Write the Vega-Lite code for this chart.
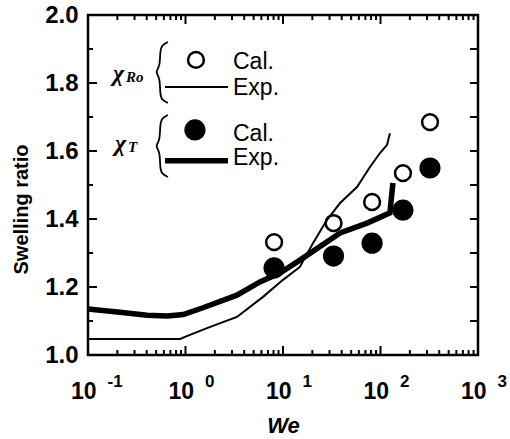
{
  "$schema": "https://vega.github.io/schema/vega-lite/v6.json",
  "width": 390,
  "height": 340,
  "autosize": {"type": "none"},
  "padding": {"left": 88, "top": 15, "right": 32, "bottom": 84},
  "background": "white",
  "config": {
    "view": {"stroke": null},
    "font": "Liberation Sans",
    "axis": {"grid": false, "labelColor": "black", "titleColor": "black", "labelFont": "Liberation Sans", "titleFont": "Liberation Sans"}
  },
  "datasets": {
    "exp": [
      {"We": 0.1, "ratio": 1.047, "model": "Ro", "k": 1},
      {"We": 0.88, "ratio": 1.047, "model": "Ro", "k": 2},
      {"We": 1.11, "ratio": 1.059, "model": "Ro", "k": 3},
      {"We": 1.66, "ratio": 1.079, "model": "Ro", "k": 4},
      {"We": 3.37, "ratio": 1.112, "model": "Ro", "k": 5},
      {"We": 6.24, "ratio": 1.171, "model": "Ro", "k": 6},
      {"We": 10, "ratio": 1.221, "model": "Ro", "k": 7},
      {"We": 14.9, "ratio": 1.259, "model": "Ro", "k": 8},
      {"We": 20.3, "ratio": 1.329, "model": "Ro", "k": 9},
      {"We": 28.2, "ratio": 1.397, "model": "Ro", "k": 10},
      {"We": 38.5, "ratio": 1.447, "model": "Ro", "k": 11},
      {"We": 57.4, "ratio": 1.494, "model": "Ro", "k": 12},
      {"We": 78, "ratio": 1.553, "model": "Ro", "k": 13},
      {"We": 98.8, "ratio": 1.594, "model": "Ro", "k": 14},
      {"We": 116.7, "ratio": 1.618, "model": "Ro", "k": 15},
      {"We": 125, "ratio": 1.652, "model": "Ro", "k": 16},
      {"We": 0.1, "ratio": 1.135, "model": "T", "k": 1},
      {"We": 0.213, "ratio": 1.126, "model": "T", "k": 2},
      {"We": 0.403, "ratio": 1.117, "model": "T", "k": 3},
      {"We": 0.65, "ratio": 1.115, "model": "T", "k": 4},
      {"We": 0.95, "ratio": 1.119, "model": "T", "k": 5},
      {"We": 1.51, "ratio": 1.139, "model": "T", "k": 6},
      {"We": 3.37, "ratio": 1.176, "model": "T", "k": 7},
      {"We": 5.8, "ratio": 1.215, "model": "T", "k": 8},
      {"We": 9.3, "ratio": 1.241, "model": "T", "k": 9},
      {"We": 14.9, "ratio": 1.279, "model": "T", "k": 10},
      {"We": 38.5, "ratio": 1.359, "model": "T", "k": 11},
      {"We": 72.8, "ratio": 1.388, "model": "T", "k": 12},
      {"We": 125, "ratio": 1.418, "model": "T", "k": 13},
      {"We": 134, "ratio": 1.506, "model": "T", "k": 14}
    ],
    "cal": [
      {"We": 8.1, "ratio": 1.332, "model": "Ro"},
      {"We": 33, "ratio": 1.388, "model": "Ro"},
      {"We": 82, "ratio": 1.45, "model": "Ro"},
      {"We": 170, "ratio": 1.535, "model": "Ro"},
      {"We": 322, "ratio": 1.685, "model": "Ro"},
      {"We": 8.1, "ratio": 1.256, "model": "T"},
      {"We": 33, "ratio": 1.291, "model": "T"},
      {"We": 82, "ratio": 1.329, "model": "T"},
      {"We": 170, "ratio": 1.426, "model": "T"},
      {"We": 322, "ratio": 1.55, "model": "T"}
    ],
    "frm": [
      {"We": 0.1, "ratio": 1, "k": 1},
      {"We": 1000, "ratio": 1, "k": 2},
      {"We": 1000, "ratio": 2, "k": 3},
      {"We": 0.1, "ratio": 2, "k": 4},
      {"We": 0.1, "ratio": 1, "k": 5}
    ],
    "tx1": [
      {"v": 0.1, "lo": 1, "hi": 2}, {"v": 1, "lo": 1, "hi": 2}, {"v": 10, "lo": 1, "hi": 2}, {"v": 100, "lo": 1, "hi": 2}, {"v": 1000, "lo": 1, "hi": 2}
    ],
    "tx2": [
      {"v": 0.2, "lo": 1, "hi": 2}, {"v": 0.3, "lo": 1, "hi": 2}, {"v": 0.4, "lo": 1, "hi": 2}, {"v": 0.5, "lo": 1, "hi": 2},
      {"v": 0.6, "lo": 1, "hi": 2}, {"v": 0.7, "lo": 1, "hi": 2}, {"v": 0.8, "lo": 1, "hi": 2}, {"v": 0.9, "lo": 1, "hi": 2},
      {"v": 2, "lo": 1, "hi": 2}, {"v": 3, "lo": 1, "hi": 2}, {"v": 4, "lo": 1, "hi": 2}, {"v": 5, "lo": 1, "hi": 2},
      {"v": 6, "lo": 1, "hi": 2}, {"v": 7, "lo": 1, "hi": 2}, {"v": 8, "lo": 1, "hi": 2}, {"v": 9, "lo": 1, "hi": 2},
      {"v": 20, "lo": 1, "hi": 2}, {"v": 30, "lo": 1, "hi": 2}, {"v": 40, "lo": 1, "hi": 2}, {"v": 50, "lo": 1, "hi": 2},
      {"v": 60, "lo": 1, "hi": 2}, {"v": 70, "lo": 1, "hi": 2}, {"v": 80, "lo": 1, "hi": 2}, {"v": 90, "lo": 1, "hi": 2},
      {"v": 200, "lo": 1, "hi": 2}, {"v": 300, "lo": 1, "hi": 2}, {"v": 400, "lo": 1, "hi": 2}, {"v": 500, "lo": 1, "hi": 2},
      {"v": 600, "lo": 1, "hi": 2}, {"v": 700, "lo": 1, "hi": 2}, {"v": 800, "lo": 1, "hi": 2}, {"v": 900, "lo": 1, "hi": 2}
    ],
    "ty1": [
      {"v": 1.2, "lo": 0.1, "hi": 1000}, {"v": 1.4, "lo": 0.1, "hi": 1000}, {"v": 1.6, "lo": 0.1, "hi": 1000}, {"v": 1.8, "lo": 0.1, "hi": 1000}
    ],
    "ty2": [
      {"v": 1.1, "lo": 0.1, "hi": 1000}, {"v": 1.3, "lo": 0.1, "hi": 1000}, {"v": 1.5, "lo": 0.1, "hi": 1000}, {"v": 1.7, "lo": 0.1, "hi": 1000}, {"v": 1.9, "lo": 0.1, "hi": 1000}
    ],
    "legMark": [
      {"We": 1.28, "ratio": 1.868, "model": "Ro"},
      {"We": 1.25, "ratio": 1.662, "model": "T"}
    ],
    "legLine": [
      {"We": 0.616, "ratio": 1.788, "model": "Ro"},
      {"We": 2.73, "ratio": 1.788, "model": "Ro"},
      {"We": 0.616, "ratio": 1.571, "model": "T"},
      {"We": 2.73, "ratio": 1.571, "model": "T"}
    ],
    "legText": [
      {"We": 3.07, "ratio": 1.841, "label": "Cal."},
      {"We": 3.07, "ratio": 1.765, "label": "Exp."},
      {"We": 3.07, "ratio": 1.629, "label": "Cal."},
      {"We": 3.07, "ratio": 1.559, "label": "Exp."}
    ],
    "chi": [
      {"We": 0.18, "ratio": 1.806, "label": "χ", "sub": "Ro"},
      {"We": 0.189, "ratio": 1.6, "label": "χ", "sub": "T"}
    ],
    "brace": [
      {"We": 0.661, "ratio": 1.9206, "b": 1, "k": 1},
      {"We": 0.574, "ratio": 1.9118, "b": 1, "k": 2},
      {"We": 0.548, "ratio": 1.8941, "b": 1, "k": 3},
      {"We": 0.548, "ratio": 1.8471, "b": 1, "k": 4},
      {"We": 0.486, "ratio": 1.8324, "b": 1, "k": 5},
      {"We": 0.548, "ratio": 1.8176, "b": 1, "k": 6},
      {"We": 0.548, "ratio": 1.7647, "b": 1, "k": 7},
      {"We": 0.574, "ratio": 1.75, "b": 1, "k": 8},
      {"We": 0.661, "ratio": 1.7412, "b": 1, "k": 9},
      {"We": 0.661, "ratio": 1.7059, "b": 2, "k": 1},
      {"We": 0.574, "ratio": 1.6971, "b": 2, "k": 2},
      {"We": 0.548, "ratio": 1.6794, "b": 2, "k": 3},
      {"We": 0.548, "ratio": 1.6294, "b": 2, "k": 4},
      {"We": 0.486, "ratio": 1.6147, "b": 2, "k": 5},
      {"We": 0.548, "ratio": 1.6, "b": 2, "k": 6},
      {"We": 0.548, "ratio": 1.5471, "b": 2, "k": 7},
      {"We": 0.574, "ratio": 1.5324, "b": 2, "k": 8},
      {"We": 0.661, "ratio": 1.5235, "b": 2, "k": 9}
    ]
  },
  "resolve": {"axis": {"x": "independent", "y": "independent"}},
  "layer": [
    {
      "data": {"name": "exp"},
      "transform": [{"filter": "datum.model == 'Ro'"}],
      "mark": {"type": "line", "color": "black", "strokeWidth": 2},
      "encoding": {
        "x": {"field": "We", "type": "quantitative", "scale": {"type": "log", "domain": [0.1, 1000], "nice": false}, "axis": null},
        "y": {"field": "ratio", "type": "quantitative", "scale": {"domain": [1, 2], "nice": false, "zero": false}, "axis": null},
        "order": {"field": "k"}
      }
    },
    {
      "data": {"name": "exp"},
      "transform": [{"filter": "datum.model == 'T'"}],
      "mark": {"type": "line", "color": "black", "strokeWidth": 5.5},
      "encoding": {
        "x": {"field": "We", "type": "quantitative", "axis": null},
        "y": {"field": "ratio", "type": "quantitative", "axis": null},
        "order": {"field": "k"}
      }
    },
    {
      "data": {"name": "frm"},
      "mark": {"type": "line", "color": "black", "strokeWidth": 2.5, "strokeCap": "square", "strokeJoin": "miter"},
      "encoding": {
        "x": {"field": "We", "type": "quantitative", "axis": null},
        "y": {"field": "ratio", "type": "quantitative", "axis": null},
        "order": {"field": "k"}
      }
    },
    {
      "data": {"name": "tx1"},
      "mark": {"type": "point", "shape": "M0,0L0,-1", "size": 324, "filled": false, "color": "black", "strokeWidth": 2, "opacity": 1},
      "encoding": {
        "x": {"field": "v", "type": "quantitative", "axis": null},
        "y": {"field": "lo", "type": "quantitative", "axis": null}
      }
    },
    {
      "data": {"name": "tx1"},
      "mark": {"type": "point", "shape": "M0,0L0,1", "size": 324, "filled": false, "color": "black", "strokeWidth": 2, "opacity": 1},
      "encoding": {
        "x": {"field": "v", "type": "quantitative", "axis": null},
        "y": {"field": "hi", "type": "quantitative", "axis": null}
      }
    },
    {
      "data": {"name": "tx2"},
      "mark": {"type": "point", "shape": "M0,0L0,-1", "size": 100, "filled": false, "color": "black", "strokeWidth": 2, "opacity": 1},
      "encoding": {
        "x": {"field": "v", "type": "quantitative", "axis": null},
        "y": {"field": "lo", "type": "quantitative", "axis": null}
      }
    },
    {
      "data": {"name": "tx2"},
      "mark": {"type": "point", "shape": "M0,0L0,1", "size": 100, "filled": false, "color": "black", "strokeWidth": 2, "opacity": 1},
      "encoding": {
        "x": {"field": "v", "type": "quantitative", "axis": null},
        "y": {"field": "hi", "type": "quantitative", "axis": null}
      }
    },
    {
      "data": {"name": "ty1"},
      "mark": {"type": "point", "shape": "M0,0L1,0", "size": 324, "filled": false, "color": "black", "strokeWidth": 2, "opacity": 1},
      "encoding": {
        "y": {"field": "v", "type": "quantitative", "axis": null},
        "x": {"field": "lo", "type": "quantitative", "axis": null}
      }
    },
    {
      "data": {"name": "ty2"},
      "mark": {"type": "point", "shape": "M0,0L1,0", "size": 100, "filled": false, "color": "black", "strokeWidth": 2, "opacity": 1},
      "encoding": {
        "y": {"field": "v", "type": "quantitative", "axis": null},
        "x": {"field": "lo", "type": "quantitative", "axis": null}
      }
    },
    {
      "data": {"name": "ty1"},
      "mark": {"type": "point", "shape": "M0,0L-1,0", "size": 256, "filled": false, "color": "black", "strokeWidth": 2, "opacity": 1},
      "encoding": {
        "y": {"field": "v", "type": "quantitative", "axis": null},
        "x": {"field": "hi", "type": "quantitative", "axis": null}
      }
    },
    {
      "data": {"name": "ty2"},
      "mark": {"type": "point", "shape": "M0,0L-1,0", "size": 256, "filled": false, "color": "black", "strokeWidth": 2, "opacity": 1},
      "encoding": {
        "y": {"field": "v", "type": "quantitative", "axis": null},
        "x": {"field": "hi", "type": "quantitative", "axis": null}
      }
    },
    {
      "data": {"name": "cal"},
      "transform": [{"filter": "datum.model == 'Ro'"}],
      "mark": {"type": "point", "filled": false, "color": "black", "strokeWidth": 2.5, "size": 250, "opacity": 1},
      "encoding": {
        "x": {"field": "We", "type": "quantitative",
          "axis": {"orient": "bottom", "values": [0.1, 1, 10, 100, 1000], "ticks": false, "domain": false,
            "labelExpr": "'10'", "labelFontSize": 23, "labelFontWeight": "bold", "labelAlign": "right", "labelOffset": 8,
            "labelBaseline": "alphabetic", "labelPadding": 43, "labelFlush": false, "labelOverlap": false, "labelBound": false,
            "title": "We", "titleFontStyle": "italic", "titleFontWeight": "bold", "titleFontSize": 22, "titlePadding": 12}},
        "y": {"field": "ratio", "type": "quantitative",
          "axis": {"orient": "left", "values": [1, 1.2, 1.4, 1.6, 1.8, 2], "format": ".1f", "ticks": false, "domain": false,
            "labelFontSize": 24, "labelFontWeight": "bold", "labelPadding": 10, "labelFlush": false, "labelOverlap": false, "labelBound": false,
            "title": "Swelling ratio", "titleFontSize": 20, "titleFontWeight": "bold", "titlePadding": 13, "titleY": 194}}
      }
    },
    {
      "data": {"name": "cal"},
      "transform": [{"filter": "datum.model == 'T'"}],
      "mark": {"type": "circle", "color": "black", "size": 450, "opacity": 1},
      "encoding": {
        "x": {"field": "We", "type": "quantitative",
          "axis": {"orient": "bottom", "values": [0.1, 1, 10, 100, 1000], "ticks": false, "domain": false,
            "labelExpr": "'' + round(log(datum.value)/LN10)", "labelFontSize": 17, "labelFontWeight": "bold", "labelAlign": "left", "labelOffset": 19,
            "labelBaseline": "alphabetic", "labelPadding": 31, "labelFlush": false, "labelOverlap": false, "labelBound": false, "title": null}},
        "y": {"field": "ratio", "type": "quantitative", "axis": null}
      }
    },
    {
      "data": {"name": "legMark"},
      "transform": [{"filter": "datum.model == 'Ro'"}],
      "mark": {"type": "point", "filled": false, "color": "black", "strokeWidth": 2.5, "size": 250, "opacity": 1},
      "encoding": {
        "x": {"field": "We", "type": "quantitative", "axis": null},
        "y": {"field": "ratio", "type": "quantitative", "axis": null}
      }
    },
    {
      "data": {"name": "legMark"},
      "transform": [{"filter": "datum.model == 'T'"}],
      "mark": {"type": "circle", "color": "black", "size": 450, "opacity": 1},
      "encoding": {
        "x": {"field": "We", "type": "quantitative", "axis": null},
        "y": {"field": "ratio", "type": "quantitative", "axis": null}
      }
    },
    {
      "data": {"name": "legLine"},
      "transform": [{"filter": "datum.model == 'Ro'"}],
      "mark": {"type": "line", "color": "black", "strokeWidth": 2},
      "encoding": {
        "x": {"field": "We", "type": "quantitative", "axis": null},
        "y": {"field": "ratio", "type": "quantitative", "axis": null}
      }
    },
    {
      "data": {"name": "legLine"},
      "transform": [{"filter": "datum.model == 'T'"}],
      "mark": {"type": "line", "color": "black", "strokeWidth": 5.5},
      "encoding": {
        "x": {"field": "We", "type": "quantitative", "axis": null},
        "y": {"field": "ratio", "type": "quantitative", "axis": null}
      }
    },
    {
      "data": {"name": "brace"},
      "mark": {"type": "line", "color": "black", "strokeWidth": 1.8, "interpolate": "basis"},
      "encoding": {
        "x": {"field": "We", "type": "quantitative", "axis": null},
        "y": {"field": "ratio", "type": "quantitative", "axis": null},
        "detail": {"field": "b"},
        "order": {"field": "k"}
      }
    },
    {
      "data": {"name": "legText"},
      "mark": {"type": "text", "align": "left", "baseline": "alphabetic", "font": "Liberation Sans", "fontSize": 23, "color": "black"},
      "encoding": {
        "x": {"field": "We", "type": "quantitative", "axis": null},
        "y": {"field": "ratio", "type": "quantitative", "axis": null},
        "text": {"field": "label"}
      }
    },
    {
      "data": {"name": "chi"},
      "mark": {"type": "text", "align": "left", "baseline": "alphabetic", "font": "Liberation Serif", "fontStyle": "italic", "fontWeight": "bold", "fontSize": 24, "color": "black"},
      "encoding": {
        "x": {"field": "We", "type": "quantitative", "axis": null},
        "y": {"field": "ratio", "type": "quantitative", "axis": null},
        "text": {"field": "label"}
      }
    },
    {
      "data": {"name": "chi"},
      "mark": {"type": "text", "align": "left", "baseline": "alphabetic", "font": "Liberation Serif", "fontStyle": "italic", "fontWeight": "bold", "fontSize": 15, "color": "black", "dx": 13, "dy": 1},
      "encoding": {
        "x": {"field": "We", "type": "quantitative", "axis": null},
        "y": {"field": "ratio", "type": "quantitative", "axis": null},
        "text": {"field": "sub"}
      }
    }
  ]
}
